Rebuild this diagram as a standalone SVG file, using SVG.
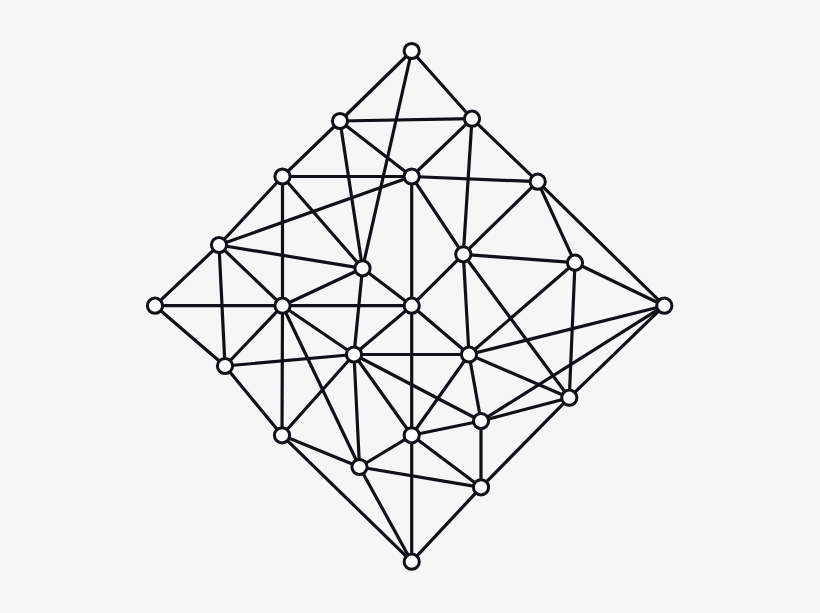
<svg xmlns="http://www.w3.org/2000/svg" width="820" height="613" viewBox="0 0 820 613">
<style>
.e{stroke:#101018;stroke-width:3.2;stroke-linecap:round;fill:none}
.n{fill:#ffffff;stroke:#101018;stroke-width:3}
</style>
<defs><circle id="c" r="7.6" class="n"/></defs>
<rect width="820" height="613" fill="#f6f6f6"/>
<g id="connectors" class="e">
<line x1="411.7" y1="51" x2="340" y2="121"/>
<line x1="411.7" y1="51" x2="472" y2="118.7"/>
<line x1="411.7" y1="51" x2="362.5" y2="268.3"/>
<line x1="340" y1="121" x2="472" y2="118.7"/>
<line x1="340" y1="121" x2="282.5" y2="176.5"/>
<line x1="340" y1="121" x2="411.7" y2="176.5"/>
<line x1="340" y1="121" x2="362.5" y2="268.3"/>
<line x1="472" y1="118.7" x2="411.7" y2="176.5"/>
<line x1="472" y1="118.7" x2="537.7" y2="181.7"/>
<line x1="472" y1="118.7" x2="463.3" y2="254.3"/>
<line x1="282.5" y1="176.5" x2="411.7" y2="176.5"/>
<line x1="282.5" y1="176.5" x2="219" y2="245"/>
<line x1="282.5" y1="176.5" x2="282.5" y2="305.7"/>
<line x1="282.5" y1="176.5" x2="362.5" y2="268.3"/>
<line x1="411.7" y1="176.5" x2="537.7" y2="181.7"/>
<line x1="411.7" y1="176.5" x2="219" y2="245"/>
<line x1="411.7" y1="176.5" x2="463.3" y2="254.3"/>
<line x1="411.7" y1="176.5" x2="411.7" y2="305.7"/>
<line x1="537.7" y1="181.7" x2="463.3" y2="254.3"/>
<line x1="537.7" y1="181.7" x2="575" y2="262.7"/>
<line x1="537.7" y1="181.7" x2="664.3" y2="305.7"/>
<line x1="219" y1="245" x2="362.5" y2="268.3"/>
<line x1="219" y1="245" x2="282.5" y2="305.7"/>
<line x1="219" y1="245" x2="155" y2="305.7"/>
<line x1="219" y1="245" x2="225" y2="366"/>
<line x1="362.5" y1="268.3" x2="282.5" y2="305.7"/>
<line x1="362.5" y1="268.3" x2="354" y2="354.5"/>
<line x1="362.5" y1="268.3" x2="411.7" y2="305.7"/>
<line x1="463.3" y1="254.3" x2="575" y2="262.7"/>
<line x1="463.3" y1="254.3" x2="411.7" y2="305.7"/>
<line x1="463.3" y1="254.3" x2="469" y2="354.5"/>
<line x1="463.3" y1="254.3" x2="569.3" y2="397.7"/>
<line x1="575" y1="262.7" x2="664.3" y2="305.7"/>
<line x1="575" y1="262.7" x2="569.3" y2="397.7"/>
<line x1="575" y1="262.7" x2="469" y2="354.5"/>
<line x1="155" y1="305.7" x2="411.7" y2="305.7"/>
<line x1="155" y1="305.7" x2="225" y2="366"/>
<line x1="282.5" y1="305.7" x2="225" y2="366"/>
<line x1="282.5" y1="305.7" x2="354" y2="354.5"/>
<line x1="282.5" y1="305.7" x2="282" y2="435.3"/>
<line x1="282.5" y1="305.7" x2="359.5" y2="467"/>
<line x1="225" y1="366" x2="354" y2="354.5"/>
<line x1="225" y1="366" x2="282" y2="435.3"/>
<line x1="354" y1="354.5" x2="411.7" y2="305.7"/>
<line x1="354" y1="354.5" x2="469" y2="354.5"/>
<line x1="411.7" y1="305.7" x2="469" y2="354.5"/>
<line x1="664.3" y1="305.7" x2="469" y2="354.5"/>
<line x1="664.3" y1="305.7" x2="481" y2="421"/>
<line x1="664.3" y1="305.7" x2="569.3" y2="397.7"/>
<line x1="282" y1="435.3" x2="354" y2="354.5"/>
<line x1="282" y1="435.3" x2="359.5" y2="467"/>
<line x1="282" y1="435.3" x2="411.7" y2="561.7"/>
<line x1="354" y1="354.5" x2="359.5" y2="467"/>
<line x1="359.5" y1="467" x2="411.7" y2="435.3"/>
<line x1="359.5" y1="467" x2="411.7" y2="561.7"/>
<line x1="359.5" y1="467" x2="481" y2="487.3"/>
<line x1="354" y1="354.5" x2="411.7" y2="435.3"/>
<line x1="354" y1="354.5" x2="481" y2="421"/>
<line x1="411.7" y1="305.7" x2="411.7" y2="561.7"/>
<line x1="469" y1="354.5" x2="569.3" y2="397.7"/>
<line x1="469" y1="354.5" x2="481" y2="421"/>
<line x1="469" y1="354.5" x2="411.7" y2="435.3"/>
<line x1="481" y1="421" x2="569.3" y2="397.7"/>
<line x1="481" y1="421" x2="411.7" y2="435.3"/>
<line x1="481" y1="421" x2="481" y2="487.3"/>
<line x1="569.3" y1="397.7" x2="481" y2="487.3"/>
<line x1="411.7" y1="435.3" x2="481" y2="487.3"/>
<line x1="481" y1="487.3" x2="411.7" y2="561.7"/>
</g>
<g id="A"><use href="#c" x="411.7" y="51"/></g>
<g id="B"><use href="#c" x="340" y="121"/></g>
<g id="C"><use href="#c" x="472" y="118.7"/></g>
<g id="D"><use href="#c" x="282.5" y="176.5"/></g>
<g id="E"><use href="#c" x="411.7" y="176.5"/></g>
<g id="F"><use href="#c" x="537.7" y="181.7"/></g>
<g id="G"><use href="#c" x="219" y="245"/></g>
<g id="H"><use href="#c" x="362.5" y="268.3"/></g>
<g id="I"><use href="#c" x="463.3" y="254.3"/></g>
<g id="J"><use href="#c" x="575" y="262.7"/></g>
<g id="K"><use href="#c" x="155" y="305.7"/></g>
<g id="L"><use href="#c" x="282.5" y="305.7"/></g>
<g id="M"><use href="#c" x="411.7" y="305.7"/></g>
<g id="N"><use href="#c" x="664.3" y="305.7"/></g>
<g id="O"><use href="#c" x="225" y="366"/></g>
<g id="P"><use href="#c" x="354" y="354.5"/></g>
<g id="Q"><use href="#c" x="469" y="354.5"/></g>
<g id="R"><use href="#c" x="569.3" y="397.7"/></g>
<g id="S"><use href="#c" x="481" y="421"/></g>
<g id="T"><use href="#c" x="282" y="435.3"/></g>
<g id="U"><use href="#c" x="411.7" y="435.3"/></g>
<g id="V"><use href="#c" x="359.5" y="467"/></g>
<g id="W"><use href="#c" x="481" y="487.3"/></g>
<g id="X"><use href="#c" x="411.7" y="561.7"/></g>
</svg>
